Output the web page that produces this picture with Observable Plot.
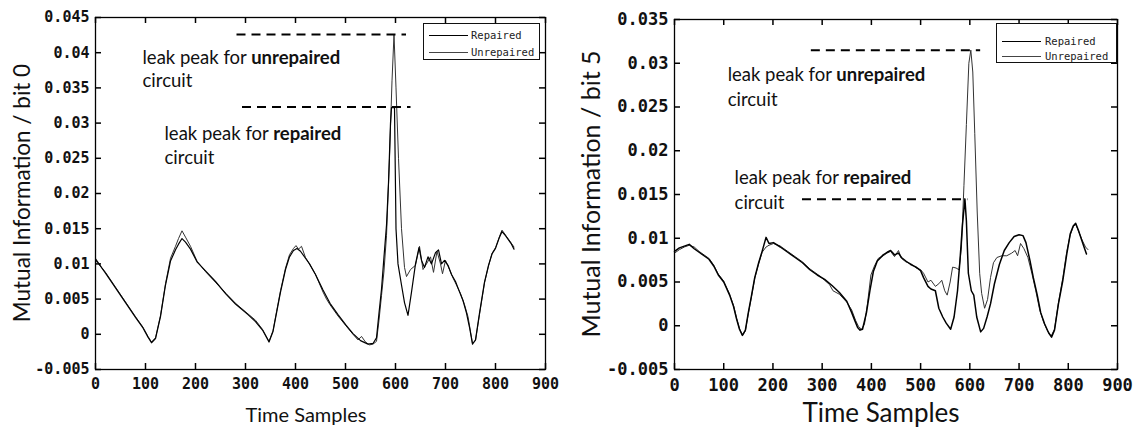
<!DOCTYPE html>
<html>
<head>
<meta charset="utf-8">
<script src="https://cdn.jsdelivr.net/npm/d3@7"></script>
<script src="https://cdn.jsdelivr.net/npm/@observablehq/plot@0.6"></script>
<style>
  body { margin: 0; background: #fff; }
  #root { position: relative; width: 1135px; height: 428px; overflow: hidden; background: #fff; }
  #root svg { position: absolute; top: 0; overflow: visible; }
  .ttl { position: absolute; font-family: Lato, "Open Sans", sans-serif; color: #111; white-space: nowrap; }
  .legend { position: absolute; border: 1px solid #111; background: #fff; box-sizing: border-box;
            font-family: "DejaVu Sans Mono", monospace; color: #222; }
  .legend .row { position: absolute; left: 0; right: 0; height: 0; }
  .legend .ln { position: absolute; height: 0; }
  .legend .tx { position: absolute; transform: translateY(-50%); white-space: nowrap; }
</style>
</head>
<body>
<div id="root"></div>
<script>
// ---------- data ----------
const xTicks = [0, 100, 200, 300, 400, 500, 600, 700, 800, 900];
const bit0YTicks = [-0.005, 0, 0.005, 0.01, 0.015, 0.02, 0.025, 0.03, 0.035, 0.04, 0.045];
const bit5YTicks = [-0.005, 0, 0.005, 0.01, 0.015, 0.02, 0.025, 0.03, 0.035];
const seriesNames = ["Repaired", "Unrepaired"];

// bit 0 panel
const bit0RepairedT = [0,20,40,60,80,95,105,112,120,130,140,150,160,166,173,180,190,203,220,240,261,280,305,320,334,347,355,362,370,380,388,396,403,410,420,428,440,455,469,485,501,515,530,545,555,562,567,572,577,582,586,590,592,598,601,605,612,618,625,632,640,647,652,658,665,672,680,686,692,698,705,712,720,727,735,742,748,754,760,768,778,786,793,800,808,813,820,826,832,837];
const bit0RepairedV = [0.0107,0.0087,0.0066,0.0045,0.0024,0.0009,-0.0004,-0.0012,-0.0006,0.0025,0.0070,0.0104,0.0120,0.0128,0.0136,0.0131,0.0121,0.0103,0.0090,0.0075,0.0057,0.0043,0.0028,0.0018,0.0006,-0.0011,0.0004,0.0030,0.0060,0.0092,0.0110,0.0119,0.0122,0.0118,0.0108,0.0100,0.0085,0.0063,0.0044,0.0028,0.0013,0.0001,-0.0009,-0.0014,-0.0013,-0.0005,0.0030,0.0064,0.0110,0.0155,0.0215,0.0300,0.0322,0.0322,0.0150,0.0100,0.0070,0.0045,0.0027,0.0060,0.0100,0.0123,0.0105,0.0095,0.0110,0.0100,0.0116,0.0120,0.0100,0.0105,0.0098,0.0085,0.0075,0.0062,0.0048,0.0030,0.0010,-0.0014,-0.0008,0.0030,0.0074,0.0098,0.0114,0.0122,0.0138,0.0146,0.0140,0.0134,0.0128,0.0121];
const bit0UnrepairedT = [0,20,40,60,80,95,105,112,120,130,140,150,160,166,173,180,190,203,220,240,261,280,305,320,334,347,355,362,370,380,388,396,401,406,412,420,428,440,455,462,469,485,501,515,525,532,540,548,555,562,567,572,577,582,588,593,597,601,606,612,618,622,630,640,648,655,662,670,676,683,690,694,700,708,715,722,730,738,745,754,760,768,778,786,793,800,808,813,820,826,832,837];
const bit0UnrepairedV = [0.0105,0.0088,0.0067,0.0046,0.0025,0.0010,-0.0003,-0.0011,-0.0005,0.0027,0.0072,0.0108,0.0125,0.0136,0.0147,0.0138,0.0125,0.0104,0.0089,0.0074,0.0058,0.0044,0.0029,0.0020,0.0007,-0.0010,0.0005,0.0032,0.0062,0.0094,0.0113,0.0122,0.0126,0.0121,0.0125,0.0109,0.0100,0.0085,0.0060,0.0050,0.0042,0.0026,0.0012,0.0000,-0.0008,-0.0003,-0.0011,-0.0015,-0.0014,-0.0010,0.0020,0.0055,0.0090,0.0140,0.0250,0.0360,0.0426,0.0350,0.0250,0.0150,0.0095,0.0082,0.0092,0.0098,0.0125,0.0092,0.0100,0.0110,0.0088,0.0118,0.0100,0.0086,0.0105,0.0092,0.0080,0.0070,0.0058,0.0042,0.0025,-0.0013,-0.0009,0.0028,0.0073,0.0097,0.0115,0.0123,0.0139,0.0148,0.0141,0.0135,0.0129,0.0124];

// bit 5 panel
const bit5RepairedT = [0,10,20,30,40,50,60,70,80,89,100,112,120,126,132,138,144,150,156,163,171,178,186,192,201,215,230,245,260,275,290,305,320,335,350,360,367,372,377,382,390,397,404,412,424,432,439,447,455,461,470,480,491,500,506,515,521,530,537,545,552,561,568,575,580,585,590,593,597,603,608,614,622,628,635,642,650,660,670,680,690,700,708,714,722,729,737,744,752,760,766,772,780,789,797,804,810,815,820,826,832,837];
const bit5RepairedV = [0.0085,0.0089,0.0091,0.0093,0.0088,0.0084,0.0080,0.0076,0.0068,0.0058,0.0050,0.0035,0.0022,0.0008,-0.0004,-0.0011,-0.0005,0.0015,0.0033,0.0055,0.0072,0.0085,0.0101,0.0094,0.0095,0.0090,0.0084,0.0078,0.0072,0.0064,0.0058,0.0053,0.0046,0.0038,0.0028,0.0015,0.0005,-0.0002,-0.0005,-0.0004,0.0015,0.0040,0.0062,0.0074,0.0081,0.0084,0.0086,0.0081,0.0083,0.0078,0.0074,0.0070,0.0067,0.0063,0.0055,0.0045,0.0042,0.0040,0.0020,0.0010,0.0003,-0.0004,0.0010,0.0040,0.0075,0.0115,0.0145,0.0120,0.0060,0.0040,0.0035,0.0010,-0.0007,-0.0003,0.0010,0.0025,0.0048,0.0070,0.0086,0.0095,0.0102,0.0104,0.0103,0.0095,0.0075,0.0055,0.0035,0.0015,0.0002,-0.0008,-0.0013,-0.0005,0.0025,0.0052,0.0082,0.0105,0.0114,0.0117,0.0110,0.0100,0.0090,0.0082];
const bit5UnrepairedT = [0,10,20,30,40,50,60,70,80,89,100,112,120,126,132,138,144,150,156,163,171,178,186,192,201,215,230,245,260,275,290,305,315,322,335,350,360,368,374,380,386,392,399,406,414,424,432,439,447,455,461,470,480,491,500,506,515,521,530,537,543,549,554,560,565,572,578,583,588,593,598,602,606,610,615,620,624,630,636,642,648,655,665,675,685,692,697,703,710,718,726,734,742,750,758,765,772,780,789,797,804,810,815,821,828,835,840];
const bit5UnrepairedV = [0.0083,0.0087,0.0090,0.0092,0.0090,0.0085,0.0081,0.0077,0.0069,0.0059,0.0051,0.0036,0.0023,0.0009,-0.0003,-0.0011,-0.0006,0.0014,0.0032,0.0054,0.0071,0.0084,0.0090,0.0092,0.0094,0.0091,0.0085,0.0079,0.0073,0.0065,0.0059,0.0052,0.0047,0.0040,0.0036,0.0027,0.0018,0.0006,-0.0001,-0.0004,0.0002,0.0025,0.0058,0.0068,0.0077,0.0080,0.0083,0.0085,0.0079,0.0086,0.0077,0.0073,0.0071,0.0066,0.0064,0.0060,0.0050,0.0052,0.0045,0.0048,0.0052,0.0040,0.0035,0.0050,0.0067,0.0066,0.0064,0.0090,0.0160,0.0230,0.0300,0.0315,0.0290,0.0220,0.0130,0.0060,0.0037,0.0020,0.0030,0.0055,0.0072,0.0078,0.0080,0.0080,0.0083,0.0086,0.0080,0.0094,0.0088,0.0078,0.0060,0.0040,0.0018,0.0004,-0.0006,-0.0012,-0.0004,0.0026,0.0055,0.0085,0.0104,0.0113,0.0116,0.0108,0.0098,0.0090,0.0087];

// annotations (data units)
const bit0PeakLevel = [0.0426, 0.0323];
const bit0DashFrom = [283, 294];
const bit0DashTo = [622, 631];
const bit0NoteT = [94, 94, 138, 138];
const bit0NoteV = [0.0392, 0.0359, 0.0285, 0.0251];
const bit5PeakLevel = [0.0315, 0.01445];
const bit5DashFrom = [278, 260];
const bit5DashTo = [622, 596];
const bit5NoteT = [108, 108, 122, 122];
const bit5NoteV = [0.0287, 0.0258, 0.0169, 0.0140];
const noteText = ["leak peak for unrepaired", "circuit", "leak peak for repaired", "circuit"];

// ---------- helpers ----------
const zipTV = (T, V) => T.map((t, i) => ({t, v: V[i]}));
const fmt = d => String(d);

function panel({width, marginLeft, marginRight, marginTop, yDomain, yTicks, rep, unrep,
                peak, dashFrom, dashTo, noteT, noteV, tickFont, noteFont, repW, unrepW}) {
  const height = 428, marginBottom = 59, tl = 6;
  const fw = width - marginLeft - marginRight;   // frame width (px)
  const fh = height - marginTop - marginBottom;  // frame height (px)
  const dashes = peak.map((v, i) => ({v, a: dashFrom[i], b: dashTo[i]}));
  const notes = noteText.map((s, i) => ({s, t: noteT[i], v: noteV[i]}));
  const axisFont = {fontSize: tickFont, fontWeight: "bold", fontFamily: "DejaVu Sans Mono"};
  const tickStyle = {stroke: "#000", strokeWidth: 1.5};
  return Plot.plot({
    width, height, marginLeft, marginRight, marginTop, marginBottom,
    x: {domain: [0, 900]},
    y: {domain: yDomain},
    style: {background: "transparent", color: "#111"},
    marks: [
      Plot.axisX({ticks: xTicks, anchor: "bottom", tickSize: 0, tickPadding: 9, tickFormat: fmt, label: null, ...axisFont}),
      Plot.axisY({ticks: yTicks, anchor: "left", tickSize: 0, tickPadding: 6, tickFormat: fmt, label: null, ...axisFont}),
      // inward ticks on all four sides (MATLAB box style)
      Plot.tickX(xTicks, {x: d => d, insetTop: fh - tl, ...tickStyle}),
      Plot.tickX(xTicks, {x: d => d, insetBottom: fh - tl, ...tickStyle}),
      Plot.tickY(yTicks, {y: d => d, insetRight: fw - tl, ...tickStyle}),
      Plot.tickY(yTicks, {y: d => d, insetLeft: fw - tl, ...tickStyle}),
      Plot.line(unrep, {x: "t", y: "v", stroke: "#333", strokeWidth: unrepW}),
      Plot.line(rep, {x: "t", y: "v", stroke: "#000", strokeWidth: repW}),
      Plot.ruleY(dashes, {y: "v", x1: "a", x2: "b", stroke: "#000", strokeWidth: 2, strokeDasharray: "9,6"}),
      Plot.text(notes, {x: "t", y: "v", text: "s", textAnchor: "start", fontFamily: "Lato", fontSize: noteFont, fill: "#111"}),
      Plot.frame({stroke: "#000", strokeWidth: 1.3})
    ]
  });
}

function boldify(svg) {
  d3.select(svg).selectAll("text").each(function () {
    const m = /^(leak peak for )(.+)$/.exec(this.textContent);
    if (m) {
      const sel = d3.select(this);
      sel.text(null);
      sel.append("tspan").text(m[1]);
      sel.append("tspan").attr("font-weight", "bold").text(m[2]);
    }
  });
}

const root = document.getElementById("root");

const left = panel({
  width: 567, marginLeft: 95, marginRight: 22, marginTop: 17,
  yDomain: [-0.005, 0.045], yTicks: bit0YTicks,
  rep: zipTV(bit0RepairedT, bit0RepairedV), unrep: zipTV(bit0UnrepairedT, bit0UnrepairedV),
  peak: bit0PeakLevel, dashFrom: bit0DashFrom, dashTo: bit0DashTo, noteT: bit0NoteT, noteV: bit0NoteV,
  tickFont: 15, noteFont: 18.5, repW: 1.2, unrepW: 1
});
left.style.left = "0px";
boldify(left);
root.appendChild(left);

const right = panel({
  width: 568, marginLeft: 107, marginRight: 18, marginTop: 19,
  yDomain: [-0.005, 0.035], yTicks: bit5YTicks,
  rep: zipTV(bit5RepairedT, bit5RepairedV), unrep: zipTV(bit5UnrepairedT, bit5UnrepairedV),
  peak: bit5PeakLevel, dashFrom: bit5DashFrom, dashTo: bit5DashTo, noteT: bit5NoteT, noteV: bit5NoteV,
  tickFont: 17, noteFont: 18.5, repW: 1.5, unrepW: 1
});
right.style.left = "567px";
boldify(right);
root.appendChild(right);

// ---------- titles ----------
function title(text, cx, cy, size, rotate) {
  const d = document.createElement("div");
  d.className = "ttl";
  d.textContent = text;
  d.style.fontSize = size + "px";
  d.style.left = cx + "px";
  d.style.top = cy + "px";
  d.style.transform = `translate(-50%,-50%)` + (rotate ? " rotate(-90deg)" : "");
  root.appendChild(d);
}
title("Mutual Information / bit 0", 21, 193, 22.5, true);
title("Time Samples", 306, 414, 20, false);
title("Mutual Information / bit 5", 590, 194, 25, true);
title("Time Samples", 881, 412, 26, false);

// ---------- legends ----------
function legend(x, y, w, h, rowY, lineX0, lineX1, textX, fontSize, widths) {
  const box = document.createElement("div");
  box.className = "legend";
  Object.assign(box.style, {left: x + "px", top: y + "px", width: w + "px", height: h + "px", fontSize: fontSize + "px"});
  seriesNames.forEach((name, i) => {
    const row = document.createElement("div");
    row.className = "row";
    row.style.top = rowY[i] + "px";
    const ln = document.createElement("div");
    ln.className = "ln";
    Object.assign(ln.style, {left: lineX0 + "px", width: (lineX1 - lineX0) + "px",
      borderTop: `${widths[i]}px solid ${i === 0 ? "#000" : "#444"}`});
    const tx = document.createElement("div");
    tx.className = "tx";
    tx.style.left = textX + "px";
    tx.textContent = name;
    row.appendChild(ln); row.appendChild(tx);
    box.appendChild(row);
  });
  root.appendChild(box);
}
legend(423, 23, 117, 37, [11, 28], 5, 44, 47, 10.5, [1, 1]);
legend(996, 23, 121, 40, [17, 32], 5, 44, 48, 10.5, [1.5, 1]);
</script>
</body>
</html>
